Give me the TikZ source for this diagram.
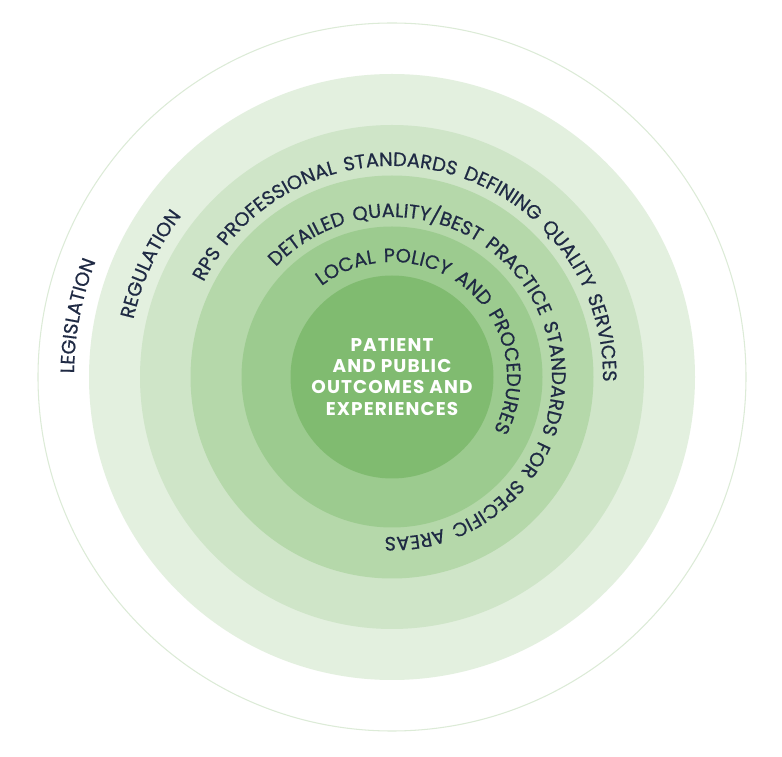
\documentclass[tikz,border=0pt]{standalone}
\usepackage{fontspec}
\newfontfamily\ringfont[LetterSpace=14,FakeBold=0.6]{Poppins}
\newfontfamily\corefont[LetterSpace=6]{Poppins}
\usetikzlibrary{decorations.text}
\definecolor{ringA}{HTML}{E3F0DF}
\definecolor{ringB}{HTML}{CFE5C8}
\definecolor{ringC}{HTML}{B5D8AA}
\definecolor{ringD}{HTML}{9CCB8F}
\definecolor{ringE}{HTML}{80BB70}
\definecolor{rimline}{HTML}{DCEBD7}
\definecolor{navy}{HTML}{1F2A44}
\tikzset{ringtext/.style={decorate,decoration={text along path,text align=center,
           text={|\ringfont\fontsize{11}{13}\selectfont\color{navy}|#1}}}
}
\begin{document}
\begin{tikzpicture}
  \useasboundingbox (0,0) rectangle (15.64,15.12);
  \coordinate (c) at (7.84,7.58);
  \draw[rimline,fill=white,line width=0.6pt] (c) circle[radius=7.08];
  \foreach\r/\col in {6.06/ringA,5.04/ringB,4.03/ringC,3.01/ringD,2.03/ringE}
     \fill[\col] (c) circle[radius=\r];
%  arc labels, clockwise
  \path[ringtext={LEGISLATION}] (c) ++(215:6.36) arc[start angle=215,end angle=123,radius=6.36];
  \path[ringtext={REGULATION}] (c) ++(200:5.3) arc[start angle=200,end angle=110,radius=5.3];
  \path[ringtext={RPS PROFESSIONAL STANDARDS DEFINING QUALITY SERVICES}] (c) ++(200:4.22) arc[start angle=200,end angle=-48,radius=4.22];
  \path[ringtext={DETAILED QUALITY/BEST PRACTICE STANDARDS FOR SPECIFIC AREAS}] (c) ++(175:3.2) arc[start angle=175,end angle=-131,radius=3.2];
  \path[ringtext={LOCAL POLICY AND PROCEDURES}] (c) ++(160:2.3) arc[start angle=160,end angle=-60,radius=2.3];
  \node[text=white,align=center,font=\corefont\bfseries\fontsize{10.5}{12}\selectfont] (core) at (c) {PATIENT\\AND PUBLIC\\OUTCOMES AND\\EXPERIENCES};
\end{tikzpicture}
\end{document}
